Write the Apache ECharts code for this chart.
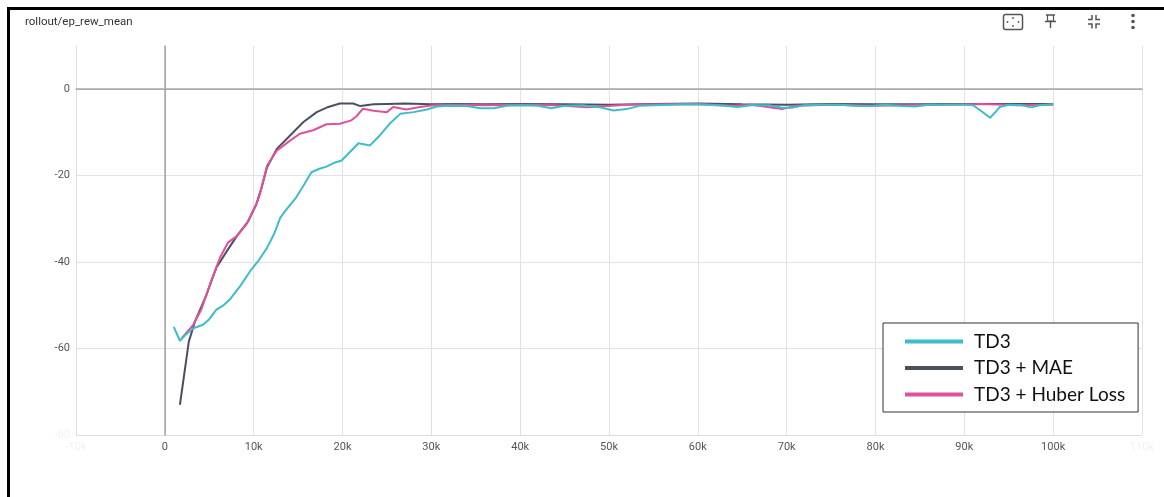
<!DOCTYPE html>
<html>
<head>
<meta charset="utf-8">
<title>rollout/ep_rew_mean</title>
<script src="https://cdn.jsdelivr.net/npm/echarts@6/dist/echarts.min.js"></script>
<style>
  html, body { margin: 0; padding: 0; background: #fff; }
  #chart { width: 1164px; height: 497px; }
</style>
</head>
<body>
<div id="chart"></div>
<script>
// steps are in thousands
const td3Steps = [1.0, 1.7, 2.5, 3.2, 4.3, 5.0, 5.8, 6.6, 7.3, 8.5, 9.6, 10.5, 11.5, 12.3, 13.0, 13.8, 14.8, 15.7, 16.5, 17.4,
  18.2, 19.1, 19.9, 20.7, 21.8, 23.1, 24.2, 25.3, 26.5, 28.0, 29.5, 30.6, 32, 34, 35.5, 37, 38.5, 40, 42, 43.5,
  45, 47, 49, 50.5, 52, 53.5, 55, 57, 59, 61, 63, 64.5, 66, 68, 69.5, 70.5, 72, 74, 76, 78,
  79.5, 81, 83, 84.5, 86, 88, 90, 91, 92, 92.9, 93.5, 94, 95, 96.5, 97.5, 98.5, 100];
const td3Reward = [-55.0, -58.2, -56.5, -55.3, -54.5, -53.2, -51.0, -50.0, -48.7, -45.5, -42.1, -39.8, -36.7, -33.5, -29.7, -27.5, -25.0, -22.0, -19.2, -18.4,
  -17.9, -17.0, -16.5, -14.8, -12.5, -13.0, -10.7, -8.0, -5.7, -5.3, -4.7, -4.0, -3.8, -3.9, -4.4, -4.4, -3.8, -3.7, -3.8, -4.4,
  -3.8, -3.7, -4.2, -4.9, -4.6, -3.8, -3.7, -3.6, -3.5, -3.6, -3.8, -4.1, -3.7, -3.7, -4.3, -4.3, -3.7, -3.6, -3.6, -3.9,
  -3.9, -3.6, -3.9, -4.0, -3.6, -3.6, -3.6, -3.7, -5.2, -6.6, -5.3, -4.1, -3.6, -3.7, -4.2, -3.7, -3.5];

const maeSteps = [1.7, 2.7, 3.4, 4.7, 5.8, 7.0, 8.1, 9.4, 10.3, 10.9, 11.5, 12.6, 14.1, 15.6, 17.1, 18.4, 19.7, 21.2, 22.0, 23.5,
  25, 27, 30, 33, 36, 40, 45, 50, 55, 60, 65, 70, 75, 80, 85, 90, 95, 100];
const maeReward = [-73.0, -58.4, -53.7, -47.5, -41.3, -37.4, -34.0, -30.5, -26.6, -22.7, -18.1, -13.8, -10.7, -7.6, -5.3, -4.1, -3.3, -3.3, -3.9, -3.5,
  -3.4, -3.3, -3.5, -3.4, -3.5, -3.4, -3.5, -3.6, -3.4, -3.3, -3.5, -3.6, -3.4, -3.5, -3.5, -3.4, -3.4, -3.4];

const huberSteps = [1.9, 3.2, 4.1, 5.1, 6.2, 7.1, 8.1, 9.2, 10.3, 10.7, 11.5, 12.6, 14.1, 15.2, 16.7, 18.2, 19.7, 21.0, 21.6, 22.3,
  23.5, 25.0, 25.7, 27.2, 28.7, 30.2, 33, 36, 40, 44, 47.5, 49, 52, 56, 60, 64, 66, 69.5, 71, 75,
  80, 83, 88, 92, 96, 100];
const huberReward = [-57.6, -54.5, -51.0, -45.0, -39.0, -35.5, -34.0, -31.2, -26.6, -24.3, -17.7, -14.2, -11.9, -10.3, -9.5, -8.1, -8.0, -7.2, -6.2, -4.5,
  -5.0, -5.3, -4.1, -4.7, -4.1, -3.7, -3.6, -3.7, -3.6, -3.7, -4.2, -4.0, -3.6, -3.5, -3.4, -3.8, -3.6, -4.6, -3.8, -3.6,
  -3.8, -3.7, -3.6, -3.4, -3.7, -3.6];

const seriesNames = ["TD3", "TD3 + MAE", "TD3 + Huber Loss"];
const seriesColors = ["#3dbdc9", "#4b5060", "#e0509f"];

function pairs(steps, values) {
  return steps.map((s, i) => [s * 1000, values[i]]);
}

const chart = echarts.init(document.getElementById("chart"));

const labelFont = "Roboto, 'Noto Sans', sans-serif";

chart.setOption({
  animation: false,
  backgroundColor: "#fff",
  grid: {
    left: 76,
    right: 22,
    top: 46,
    bottom: 62
  },
  xAxis: {
    type: "value",
    min: -10000,
    max: 110000,
    interval: 10000,
    axisLine: { show: true, lineStyle: { color: "#aaa", width: 1.5 } },
    axisTick: { show: false },
    splitLine: {
      show: true,
      lineStyle: {
        color: ["#ddd", "#b0b0b0", "#e2e2e2", "#e2e2e2", "#e2e2e2", "#e2e2e2", "#e2e2e2",
          "#e2e2e2", "#e2e2e2", "#e2e2e2", "#e2e2e2", "#e2e2e2", "#e2e2e2"]
      }
    },
    axisLabel: {
      margin: 7,
      color: "#555",
      fontSize: 11,
      fontFamily: labelFont,
      formatter: function (v) {
        if (v === -10000 || v === 110000) return "{f|" + (v / 1000) + "k}";
        return v === 0 ? "0" : (v / 1000) + "k";
      },
      rich: { f: { color: "#f2f2f2", fontSize: 11, fontFamily: labelFont } }
    }
  },
  yAxis: {
    type: "value",
    min: -80,
    max: 10,
    interval: 20,
    axisLine: { show: true, lineStyle: { color: "#aaa", width: 1.5 } },
    axisTick: { show: false },
    splitLine: {
      show: true,
      showMaxLine: false,
      lineStyle: {
        color: ["#ddd", "#e2e2e2", "#e2e2e2", "#e2e2e2", "#b0b0b0", "rgba(0,0,0,0)"]
      }
    },
    axisLabel: {
      margin: 6,
      color: "#555",
      fontSize: 11,
      fontFamily: labelFont,
      formatter: function (v) {
        if (v > 0) return "";
        if (v === -80) return "{f|-80}";
        return String(v);
      },
      rich: { f: { color: "#f2f2f2", fontSize: 11, fontFamily: labelFont } }
    }
  },
  legend: {
    data: seriesNames,
    orient: "vertical",
    left: 883,
    top: 323,
    backgroundColor: "#fff",
    borderColor: "#333",
    borderWidth: 1,
    borderRadius: 0,
    padding: [9, 13, 8, 22],
    itemGap: 7.5,
    icon: "rect",
    itemWidth: 58,
    itemHeight: 4,
    textStyle: {
      color: "#111",
      fontSize: 19,
      lineHeight: 18,
      fontFamily: "Lato, 'Open Sans', sans-serif",
      padding: [0, 0, 0, 6]
    }
  },
  series: [
    {
      name: seriesNames[1],
      type: "line",
      showSymbol: false,
      color: seriesColors[1],
      lineStyle: { width: 2 },
      data: pairs(maeSteps, maeReward)
    },
    {
      name: seriesNames[2],
      type: "line",
      showSymbol: false,
      color: seriesColors[2],
      lineStyle: { width: 2 },
      data: pairs(huberSteps, huberReward)
    },
    {
      name: seriesNames[0],
      type: "line",
      showSymbol: false,
      color: seriesColors[0],
      lineStyle: { width: 2 },
      data: pairs(td3Steps, td3Reward)
    }
  ],
  graphic: [
    {
      type: "polyline",
      shape: { points: [[1164, 8.5], [8.5, 8.5], [8.5, 497]] },
      style: { stroke: "#000", lineWidth: 3, fill: null }
    },
    {
      type: "text",
      left: 25,
      top: 16,
      style: { text: "rollout/ep_rew_mean", fontSize: 11.5, fill: "#333", fontFamily: labelFont }
    },
    // fullscreen icon
    {
      type: "rect",
      shape: { x: 1003.5, y: 14.5, width: 19, height: 15, r: 2 },
      style: { stroke: "#555", lineWidth: 1.5, fill: null }
    },
    { type: "circle", shape: { cx: 1013, cy: 18, r: 0.9 }, style: { fill: "#555" } },
    { type: "circle", shape: { cx: 1013, cy: 26, r: 0.9 }, style: { fill: "#555" } },
    { type: "circle", shape: { cx: 1007.5, cy: 22, r: 0.9 }, style: { fill: "#555" } },
    { type: "circle", shape: { cx: 1018.5, cy: 22, r: 0.9 }, style: { fill: "#555" } },
    // pin icon
    {
      type: "polyline",
      shape: { points: [[1046, 15], [1055, 15]] },
      style: { stroke: "#555", lineWidth: 1.5, fill: null }
    },
    {
      type: "polyline",
      shape: { points: [[1047.5, 15], [1047.5, 21], [1053.5, 21], [1053.5, 15]] },
      style: { stroke: "#555", lineWidth: 1.2, fill: null }
    },
    {
      type: "polyline",
      shape: { points: [[1045, 21.5], [1056, 21.5]] },
      style: { stroke: "#555", lineWidth: 1.5, fill: null }
    },
    {
      type: "polyline",
      shape: { points: [[1050.5, 21.5], [1050.5, 28]] },
      style: { stroke: "#555", lineWidth: 1.5, fill: null }
    },
    // collapse icon
    { type: "polyline", shape: { points: [[1088, 19.5], [1092, 19.5], [1092, 15]] }, style: { stroke: "#555", lineWidth: 1.5, fill: null } },
    { type: "polyline", shape: { points: [[1100, 19.5], [1096, 19.5], [1096, 15]] }, style: { stroke: "#555", lineWidth: 1.5, fill: null } },
    { type: "polyline", shape: { points: [[1088, 24], [1092, 24], [1092, 28.5]] }, style: { stroke: "#555", lineWidth: 1.5, fill: null } },
    { type: "polyline", shape: { points: [[1100, 24], [1096, 24], [1096, 28.5]] }, style: { stroke: "#555", lineWidth: 1.5, fill: null } },
    // more icon
    { type: "circle", shape: { cx: 1133, cy: 15.5, r: 1.8 }, style: { fill: "#555" } },
    { type: "circle", shape: { cx: 1133, cy: 21.5, r: 1.8 }, style: { fill: "#555" } },
    { type: "circle", shape: { cx: 1133, cy: 27.5, r: 1.8 }, style: { fill: "#555" } }
  ]
});
</script>
</body>
</html>
